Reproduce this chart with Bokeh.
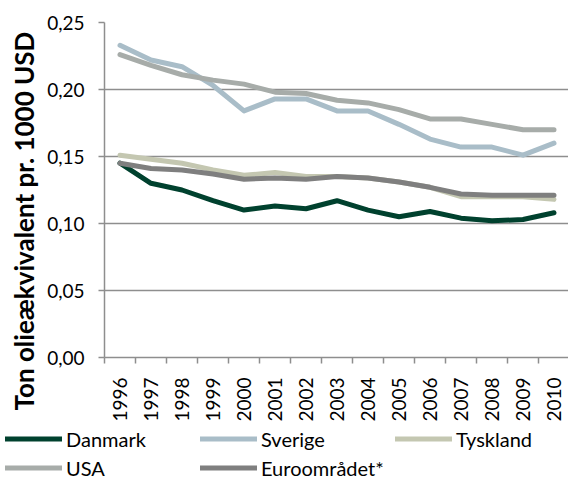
from bokeh.plotting import figure
from bokeh.models import Range1d, FixedTicker, CustomJSTickFormatter, Legend, LegendItem, Title
from bokeh.layouts import column, row
from bokeh.embed import file_html
from bokeh.resources import INLINE
import math

years = [1996, 1997, 1998, 1999, 2000, 2001, 2002, 2003, 2004, 2005, 2006, 2007, 2008, 2009, 2010]
year_labels = [str(y) for y in years]
y_ticks = [0.0, 0.05, 0.10, 0.15, 0.20, 0.25]

danmark = [0.145, 0.130, 0.125, 0.117, 0.110, 0.113, 0.111, 0.117, 0.110, 0.105, 0.109, 0.104, 0.102, 0.103, 0.108]
sverige = [0.233, 0.222, 0.217, 0.203, 0.184, 0.193, 0.193, 0.184, 0.184, 0.174, 0.163, 0.157, 0.157, 0.151, 0.160]
tyskland = [0.151, 0.148, 0.145, 0.140, 0.136, 0.138, 0.135, 0.135, 0.134, 0.131, 0.127, 0.120, 0.120, 0.120, 0.118]
usa = [0.226, 0.218, 0.211, 0.207, 0.204, 0.198, 0.197, 0.192, 0.190, 0.185, 0.178, 0.178, 0.174, 0.170, 0.170]
euro = [0.145, 0.141, 0.140, 0.137, 0.133, 0.134, 0.133, 0.135, 0.134, 0.131, 0.127, 0.122, 0.121, 0.121, 0.121]

series = [
    ("Danmark", danmark, "#00412e"),
    ("Sverige", sverige, "#a9bdc8"),
    ("Tyskland", tyskland, "#c4c7b1"),
    ("USA", usa, "#a7aca9"),
    ("Euroområdet*", euro, "#7f7f7f"),
]
y_title = "Ton olieækvivalent pr. 1000 USD"

FONT = "Lato"
GRID = "#8e8e8e"
LW = 5

p = figure(frame_width=465, frame_height=335, output_backend="svg", toolbar_location=None,
           x_range=Range1d(years[0] - 0.5, years[-1] + 0.5), y_range=Range1d(0, 0.25),
           min_border_left=103, min_border_right=0, min_border_top=22, min_border_bottom=64)
p.outline_line_color = None
p.background_fill_color = "white"
p.border_fill_color = "white"

for name, vals, col in series:
    p.line(years, vals, line_color=col, line_width=LW, line_join="round", line_cap="round")

# X axis
xt = FixedTicker(ticks=years, minor_ticks=[years[0] - 0.5 + i for i in range(len(years) + 1)])
p.xaxis.ticker = xt
p.xaxis.major_label_overrides = dict(zip(years, year_labels))
p.xaxis.major_label_orientation = math.pi / 2
p.xaxis.major_tick_out = 0
p.xaxis.major_tick_in = 0
p.xaxis.minor_tick_out = 6
p.xaxis.minor_tick_in = 0
p.xaxis.minor_tick_line_color = GRID
p.xaxis.minor_tick_line_width = 1.5
p.xaxis.axis_line_color = GRID
p.xaxis.axis_line_width = 1.5
p.xaxis.major_label_standoff = 14
p.xaxis.major_label_text_font = FONT
p.xaxis.major_label_text_font_size = "19px"
p.xaxis.major_label_text_color = "black"

# Y axis
yt = FixedTicker(ticks=y_ticks)
p.yaxis.ticker = yt
p.yaxis.formatter = CustomJSTickFormatter(code="return tick.toFixed(2).replace('.', ',');")
p.yaxis.major_tick_out = 6
p.yaxis.major_tick_in = 0
p.yaxis.minor_tick_out = 0
p.yaxis.minor_tick_in = 0
p.yaxis.major_tick_line_color = GRID
p.yaxis.major_tick_line_width = 1.5
p.yaxis.axis_line_color = GRID
p.yaxis.axis_line_width = 1.5
p.yaxis.major_label_standoff = 14
p.yaxis.major_label_text_font = FONT
p.yaxis.major_label_text_font_size = "19px"
p.yaxis.major_label_text_color = "black"

p.add_layout(Title(text=y_title, align="left", offset=-53, standoff=10,
                   text_font=FONT, text_font_size="26px", text_font_style="bold",
                   text_color="black"), "left")

p.xgrid.visible = False
p.ygrid.ticker = yt
p.ygrid.grid_line_color = GRID
p.ygrid.grid_line_width = 1.5

# Legend strip below the chart (lines here fall outside its ranges; only their legend keys show)
pl = figure(width=568, height=56, output_backend="svg", toolbar_location=None,
            x_range=Range1d(0, 1), y_range=Range1d(0, 1), x_axis_type=None, y_axis_type=None,
            min_border_left=0, min_border_right=0, min_border_top=0, min_border_bottom=0)
pl.outline_line_color = None
pl.grid.visible = False
pl.background_fill_color = "white"
pl.border_fill_color = "white"

items = []
for name, vals, col in series:
    r = pl.line(years, vals, line_color=col, line_width=LW, line_cap="round")
    items.append(LegendItem(label=name, renderers=[r]))

legend = Legend(items=items, orientation="horizontal", ncols=3,
                location=(5, -2), padding=0, margin=0, spacing=0,
                glyph_width=57, glyph_height=29, label_height=29, label_width=134,
                label_standoff=4, border_line_color=None, background_fill_alpha=0,
                label_text_font=FONT, label_text_font_size="20px", label_text_color="black")
pl.add_layout(legend, "center")

layout = column(p, row(pl, spacing=0), spacing=0)
open("out.html", "w").write(file_html(layout, INLINE))
